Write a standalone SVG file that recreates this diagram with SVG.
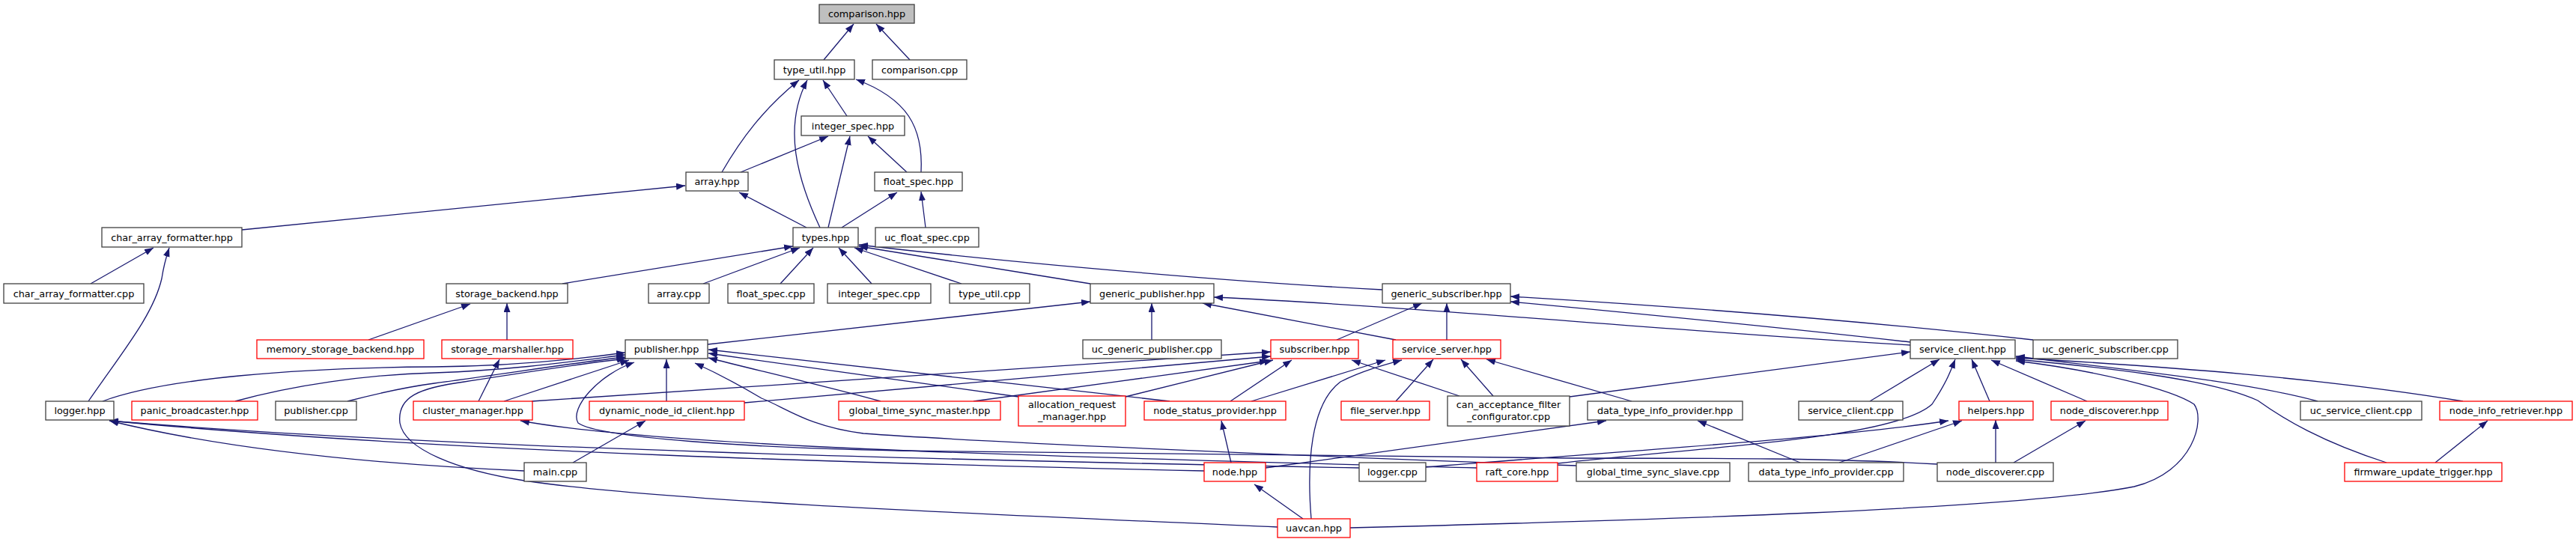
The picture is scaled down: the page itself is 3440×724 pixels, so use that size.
<svg xmlns="http://www.w3.org/2000/svg" width="3440" height="724" viewBox="0 0 3440 724">
<defs>
<marker id="a" markerWidth="14" markerHeight="10" refX="12" refY="4.5" orient="auto" markerUnits="userSpaceOnUse"><path d="M0,0 L12,4.5 L0,9 z" fill="#191970"/></marker>
<style>
rect{fill:#fff;stroke:#404040;stroke-width:1.3}
.r rect{stroke:#ff0000}
.g rect{fill:#bfbfbf}
text{font-family:"DejaVu Sans",sans-serif;font-size:12.8px;text-anchor:middle;fill:#000}
#edges path{fill:none;stroke:#191970;stroke-width:1.3;marker-end:url(#a)}
</style>
</defs>
<rect x="0" y="0" width="3440" height="724" style="fill:#fff;stroke:none"/>
<g id="edges">
<path d="M1100,80 L1140,32"/>
<path d="M1215,80 L1170,32"/>
<path d="M1131,155 L1099,107"/>
<path d="M1230,230 C1233,170 1212,132 1143,106"/>
<path d="M964,230 C990,185 1020,145 1067,107"/>
<path d="M989,230 L1106,182"/>
<path d="M1095,304 C1065,240 1045,170 1078,107"/>
<path d="M1106,304 L1135,182"/>
<path d="M1077,304 L987,257"/>
<path d="M1124,304 L1198,257"/>
<path d="M1211,230 L1159,182"/>
<path d="M1236,304 L1230,256"/>
<path d="M323,307 L915,248"/>
<path d="M121,379 L205,331"/>
<path d="M118,536 C165,468 205,420 216,372 Q219,352 226,331"/>
<path d="M751,379 L1059,329"/>
<path d="M939,379 L1068,331"/>
<path d="M1042,379 L1086,331"/>
<path d="M1164,379 L1120,331"/>
<path d="M1284,379 L1141,331"/>
<path d="M1456,379 C1350,362 1230,342 1147,329"/>
<path d="M1846,387 C1600,374 1300,345 1147,327"/>
<path d="M1538,454 L1538,405"/>
<path d="M945,460 L1456,403"/>
<path d="M1785,454 L1899,405"/>
<path d="M1932,454 L1932,405"/>
<path d="M1864,454 L1606,405"/>
<path d="M2551,461 C2200,440 1900,410 1621,397"/>
<path d="M2551,457 C2400,440 2200,420 2017,403"/>
<path d="M2715,454 C2500,430 2250,410 2017,396"/>
<path d="M677,454 L677,405"/>
<path d="M492,454 L628,406"/>
<path d="M639,536 L667,480"/>
<path d="M137,536 C220,505 400,491 580,490 C690,489 770,480 835,471"/>
<path d="M314,536 C390,515 490,500 580,498 C690,494 770,482 835,474"/>
<path d="M464,536 C510,524 550,516 580,512 C690,497 770,484 835,477"/>
<path d="M1706,704 C1400,690 900,672 700,642 C610,628 540,600 534,565 C530,530 560,518 620,510 C710,496 790,484 836,479"/>
<path d="M673,536 L840,481"/>
<path d="M890,536 L890,480"/>
<path d="M1176,536 C1100,515 1000,492 946,478"/>
<path d="M1360,530 L946,472"/>
<path d="M1562,536 L946,467"/>
<path d="M2587,620 C2450,612 2300,612 2100,612 L1200,602 C1000,598 800,585 772,565 C760,545 800,500 847,484"/>
<path d="M2105,622 C1800,612 1300,590 1153,579 C1080,570 1050,545 1017,532 C980,510 950,495 928,485"/>
<path d="M710,536 L1697,470"/>
<path d="M994,538 L1697,476"/>
<path d="M1300,536 L1694,482"/>
<path d="M1503,530 L1700,481"/>
<path d="M1643,536 L1725,481"/>
<path d="M1949,529 L1805,481"/>
<path d="M1751,693 C1745,620 1750,540 1790,510 C1820,495 1850,487 1872,481"/>
<path d="M1671,536 L1850,481"/>
<path d="M1864,536 L1914,480"/>
<path d="M1994,529 L1951,480"/>
<path d="M2179,536 L1985,480"/>
<path d="M2497,536 L2590,480"/>
<path d="M2657,536 L2633,480"/>
<path d="M2787,536 L2659,481"/>
<path d="M3289,536 C3100,505 2900,490 2692,478"/>
<path d="M3095,536 C3000,510 2850,495 2692,476"/>
<path d="M3187,618 C3100,590 3050,560 3015,535 C2950,505 2800,490 2692,480"/>
<path d="M2096,530 L2551,470"/>
<path d="M2080,619 C2300,595 2530,585 2580,540 C2600,510 2605,495 2611,480"/>
<path d="M2665,618 L2665,561"/>
<path d="M2456,618 L2620,562"/>
<path d="M1904,624 C2200,600 2450,585 2602,562"/>
<path d="M765,618 L862,562"/>
<path d="M700,629 C500,620 300,600 146,562"/>
<path d="M1608,629 C1200,620 600,605 146,562"/>
<path d="M1815,625 C1300,615 600,600 146,562"/>
<path d="M1972,625 C1500,612 900,600 695,562"/>
<path d="M1644,618 L1631,562"/>
<path d="M1690,625 L2145,562"/>
<path d="M2404,618 L2267,562"/>
<path d="M2689,618 L2785,562"/>
<path d="M3252,618 L3322,562"/>
<path d="M1740,693 L1675,647"/>
<path d="M1803,705 C2200,695 2700,680 2850,650 C2930,630 2945,560 2930,540 C2900,520 2800,495 2692,482"/>
</g>
<g id="n_comparison_hpp" class="g"><rect x="1094" y="6" width="127" height="25"/><text x="1157.5" y="23">comparison.hpp</text></g>
<g id="n_type_util_hpp"><rect x="1034" y="80" width="107" height="26"/><text x="1087.5" y="97.5">type_util.hpp</text></g>
<g id="n_comparison_cpp"><rect x="1165" y="80" width="126" height="26"/><text x="1228" y="97.5">comparison.cpp</text></g>
<g id="n_integer_spec_hpp"><rect x="1070" y="155" width="138" height="26"/><text x="1139" y="172.5">integer_spec.hpp</text></g>
<g id="n_array_hpp"><rect x="916" y="230" width="83" height="25"/><text x="957.5" y="247">array.hpp</text></g>
<g id="n_float_spec_hpp"><rect x="1168" y="230" width="117" height="25"/><text x="1226.5" y="247">float_spec.hpp</text></g>
<g id="n_char_array_formatter_hpp"><rect x="136" y="304" width="187" height="26"/><text x="229.5" y="321.5">char_array_formatter.hpp</text></g>
<g id="n_types_hpp"><rect x="1059" y="304" width="87" height="26"/><text x="1102.5" y="321.5">types.hpp</text></g>
<g id="n_uc_float_spec_cpp"><rect x="1169" y="304" width="138" height="26"/><text x="1238" y="321.5">uc_float_spec.cpp</text></g>
<g id="n_char_array_formatter_cpp"><rect x="5" y="379" width="187" height="26"/><text x="98.5" y="396.5">char_array_formatter.cpp</text></g>
<g id="n_storage_backend_hpp"><rect x="596" y="379" width="162" height="26"/><text x="677" y="396.5">storage_backend.hpp</text></g>
<g id="n_array_cpp"><rect x="866" y="379" width="81" height="26"/><text x="906.5" y="396.5">array.cpp</text></g>
<g id="n_float_spec_cpp"><rect x="972" y="379" width="115" height="26"/><text x="1029.5" y="396.5">float_spec.cpp</text></g>
<g id="n_integer_spec_cpp"><rect x="1105" y="379" width="138" height="26"/><text x="1174" y="396.5">integer_spec.cpp</text></g>
<g id="n_type_util_cpp"><rect x="1268" y="379" width="107" height="26"/><text x="1321.5" y="396.5">type_util.cpp</text></g>
<g id="n_generic_publisher_hpp"><rect x="1456" y="379" width="165" height="26"/><text x="1538.5" y="396.5">generic_publisher.hpp</text></g>
<g id="n_generic_subscriber_hpp"><rect x="1846" y="379" width="171" height="26"/><text x="1931.5" y="396.5">generic_subscriber.hpp</text></g>
<g id="n_memory_storage_backend_hpp" class="r"><rect x="343" y="454" width="223" height="25"/><text x="454.5" y="471">memory_storage_backend.hpp</text></g>
<g id="n_storage_marshaller_hpp" class="r"><rect x="590" y="454" width="175" height="25"/><text x="677.5" y="471">storage_marshaller.hpp</text></g>
<g id="n_publisher_hpp"><rect x="835" y="454" width="110" height="25"/><text x="890" y="471">publisher.hpp</text></g>
<g id="n_uc_generic_publisher_cpp"><rect x="1446" y="454" width="185" height="25"/><text x="1538.5" y="471">uc_generic_publisher.cpp</text></g>
<g id="n_subscriber_hpp" class="r"><rect x="1697" y="454" width="117" height="25"/><text x="1755.5" y="471">subscriber.hpp</text></g>
<g id="n_service_server_hpp" class="r"><rect x="1860" y="454" width="144" height="25"/><text x="1932" y="471">service_server.hpp</text></g>
<g id="n_service_client_hpp"><rect x="2551" y="454" width="140" height="25"/><text x="2621" y="471">service_client.hpp</text></g>
<g id="n_uc_generic_subscriber_cpp"><rect x="2715" y="454" width="193" height="25"/><text x="2811.5" y="471">uc_generic_subscriber.cpp</text></g>
<g id="n_logger_hpp"><rect x="61" y="536" width="91" height="25"/><text x="106.5" y="553">logger.hpp</text></g>
<g id="n_panic_broadcaster_hpp" class="r"><rect x="176" y="536" width="168" height="25"/><text x="260" y="553">panic_broadcaster.hpp</text></g>
<g id="n_publisher_cpp"><rect x="368" y="536" width="108" height="25"/><text x="422" y="553">publisher.cpp</text></g>
<g id="n_cluster_manager_hpp" class="r"><rect x="552" y="536" width="159" height="25"/><text x="631.5" y="553">cluster_manager.hpp</text></g>
<g id="n_dynamic_node_id_client_hpp" class="r"><rect x="787" y="536" width="207" height="25"/><text x="890.5" y="553">dynamic_node_id_client.hpp</text></g>
<g id="n_global_time_sync_master_hpp" class="r"><rect x="1120" y="536" width="216" height="25"/><text x="1228" y="553">global_time_sync_master.hpp</text></g>
<g id="n_allocation_request_manager_hpp" class="r"><rect x="1360" y="529" width="143" height="40"/><text x="1431.5" y="545">allocation_request</text><text x="1431.5" y="561">_manager.hpp</text></g>
<g id="n_node_status_provider_hpp" class="r"><rect x="1528" y="536" width="189" height="25"/><text x="1622.5" y="553">node_status_provider.hpp</text></g>
<g id="n_file_server_hpp" class="r"><rect x="1791" y="536" width="118" height="25"/><text x="1850" y="553">file_server.hpp</text></g>
<g id="n_can_acceptance_filter_configurator_cpp"><rect x="1933" y="529" width="163" height="40"/><text x="2014.5" y="545">can_acceptance_filter</text><text x="2014.5" y="561">_configurator.cpp</text></g>
<g id="n_data_type_info_provider_hpp"><rect x="2120" y="536" width="207" height="25"/><text x="2223.5" y="553">data_type_info_provider.hpp</text></g>
<g id="n_service_client_cpp"><rect x="2402" y="536" width="139" height="25"/><text x="2471.5" y="553">service_client.cpp</text></g>
<g id="n_helpers_hpp" class="r"><rect x="2616" y="536" width="99" height="25"/><text x="2665.5" y="553">helpers.hpp</text></g>
<g id="n_node_discoverer_hpp" class="r"><rect x="2739" y="536" width="156" height="25"/><text x="2817" y="553">node_discoverer.hpp</text></g>
<g id="n_uc_service_client_cpp"><rect x="3072" y="536" width="162" height="25"/><text x="3153" y="553">uc_service_client.cpp</text></g>
<g id="n_node_info_retriever_hpp" class="r"><rect x="3258" y="536" width="177" height="25"/><text x="3346.5" y="553">node_info_retriever.hpp</text></g>
<g id="n_main_cpp"><rect x="700" y="618" width="83" height="25"/><text x="741.5" y="635">main.cpp</text></g>
<g id="n_node_hpp" class="r"><rect x="1608" y="618" width="82" height="25"/><text x="1649" y="635">node.hpp</text></g>
<g id="n_logger_cpp"><rect x="1815" y="618" width="89" height="25"/><text x="1859.5" y="635">logger.cpp</text></g>
<g id="n_raft_core_hpp" class="r"><rect x="1972" y="618" width="108" height="25"/><text x="2026" y="635">raft_core.hpp</text></g>
<g id="n_global_time_sync_slave_cpp"><rect x="2105" y="618" width="205" height="25"/><text x="2207.5" y="635">global_time_sync_slave.cpp</text></g>
<g id="n_data_type_info_provider_cpp"><rect x="2335" y="618" width="207" height="25"/><text x="2438.5" y="635">data_type_info_provider.cpp</text></g>
<g id="n_node_discoverer_cpp"><rect x="2587" y="618" width="155" height="25"/><text x="2664.5" y="635">node_discoverer.cpp</text></g>
<g id="n_firmware_update_trigger_hpp" class="r"><rect x="3131" y="618" width="210" height="25"/><text x="3236" y="635">firmware_update_trigger.hpp</text></g>
<g id="n_uavcan_hpp" class="r"><rect x="1706" y="693" width="97" height="25"/><text x="1754.5" y="710">uavcan.hpp</text></g>
</svg>
